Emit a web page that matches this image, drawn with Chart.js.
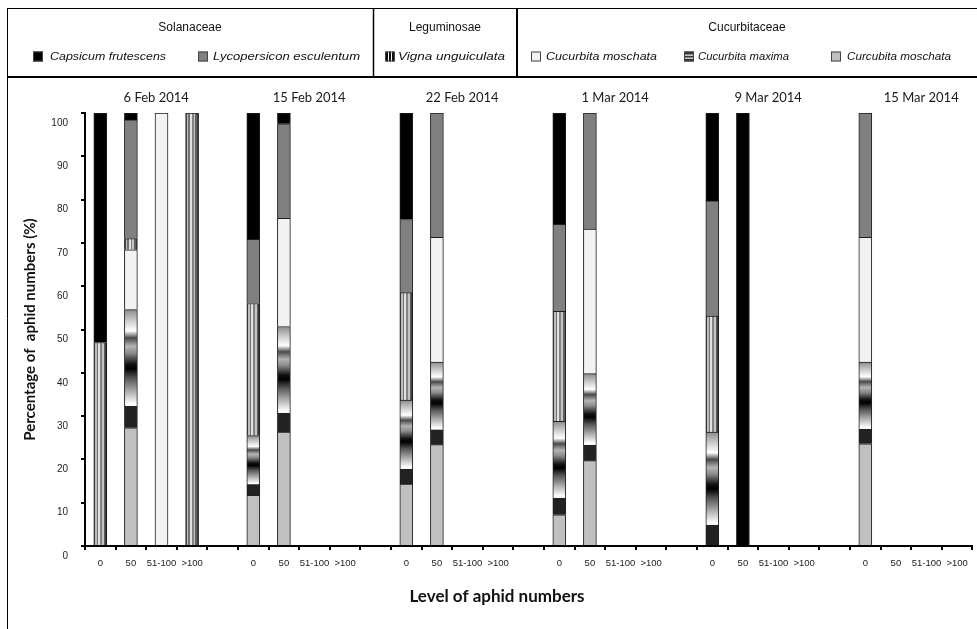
<!DOCTYPE html>
<html>
<head>
<meta charset="utf-8">
<script src="https://cdn.jsdelivr.net/npm/chart.js@4.4.1/dist/chart.umd.min.js"></script>
<style>
  html, body { margin: 0; padding: 0; background: #fff; }
  #c { display: block; }
</style>
</head>
<body>
<canvas id="c" width="977" height="629"></canvas>
<script>
// ---------- data ----------
const dates = ['6 Feb 2014', '15 Feb 2014', '22 Feb 2014', '1 Mar 2014', '9 Mar 2014', '15 Mar 2014'];
const levels = ['0', '50', '51-100', '>100'];

// values in order: date-major, level-minor (0, 50, 51-100, >100)
const capsicumFrutescens = [
  53, 1.6, 0, 0,
  29.2, 2.5, 0, 0,
  24.6, 0, 0, 0,
  25.7, 0, 0, 0,
  20.3, 100, 0, 0,
  0, 0, 0, 0
];
const lycopersiconEsculentum = [
  0, 27.4, 0, 0,
  14.8, 21.8, 0, 0,
  16.9, 28.7, 0, 0,
  20.1, 26.8, 0, 0,
  26.6, 0, 0, 0,
  28.7, 0, 0, 0
];
const vignaUnguiculata = [
  47, 2.6, 0, 100,
  30.5, 0, 0, 0,
  24.8, 0, 0, 0,
  25.4, 0, 0, 0,
  26.8, 0, 0, 0,
  0, 0, 0, 0
];
const cucurbitaMoschata = [
  0, 13.8, 100, 0,
  0, 25.0, 0, 0,
  0, 28.8, 0, 0,
  0, 33.4, 0, 0,
  0, 0, 0, 0,
  28.8, 0, 0, 0
];
const cucurbitaMaxima = [
  0, 27.3, 0, 0,
  13.8, 24.4, 0, 0,
  19.4, 19.1, 0, 0,
  21.6, 20.1, 0, 0,
  26.3, 0, 0, 0,
  18.9, 0, 0, 0
];
const curcubitaMoschata = [
  0, 27.3, 0, 0,
  11.7, 26.3, 0, 0,
  14.3, 23.4, 0, 0,
  7.2, 19.7, 0, 0,
  0, 0, 0, 0,
  23.6, 0, 0, 0
];

// ---------- build category axis with a gap slot between date groups ----------
const labels = [];
dates.forEach((d, g) => {
  levels.forEach(l => labels.push(l));
  if (g < dates.length - 1) labels.push('');
});
function expand(arr) {
  const out = [];
  dates.forEach((d, g) => {
    for (let k = 0; k < levels.length; k++) {
      const v = arr[g * levels.length + k];
      out.push(v ? v : null);
    }
    if (g < dates.length - 1) out.push(null);
  });
  return out;
}
const dLight = expand(curcubitaMoschata);
const dMax = expand(cucurbitaMaxima);
const dWhite = expand(cucurbitaMoschata);
const dVigna = expand(vignaUnguiculata);
const dLyco = expand(lycopersiconEsculentum);
const dCaps = expand(capsicumFrutescens);

const BAR_W = 13;

function vignaGradient(c, x0, x1) {
  const g = c.createLinearGradient(x0, 0, x1, 0);
  const stripes = [
    [0, 0.1, '#4a4a4a'], [0.1, 0.22, '#bdbdbd'], [0.22, 0.36, '#727272'],
    [0.36, 0.5, '#e2e2e2'], [0.5, 0.62, '#838383'], [0.62, 0.76, '#c4c4c4'],
    [0.76, 0.9, '#606060'], [0.9, 1, '#3a3a3a']
  ];
  stripes.forEach(s => { g.addColorStop(s[0], s[2]); g.addColorStop(s[1], s[2]); });
  return g;
}
function vignaFill(ctx) {
  const chart = ctx.chart, xs = chart.scales.x;
  if (ctx.type !== 'data' || !xs || !chart.chartArea) return '#999999';
  const cx = xs.getPixelForValue(ctx.dataIndex);
  return vignaGradient(chart.ctx, cx - BAR_W / 2, cx + BAR_W / 2);
}
function maximaGradient(c, y0, y1) {
  const g = c.createLinearGradient(0, y0, 0, y1);
  const stops = [
    [0, '#8c8c8c'], [0.1, '#cfcfcf'], [0.18, '#ffffff'], [0.24, '#4a4a4a'],
    [0.31, '#b4b4b4'], [0.37, '#8a8a8a'], [0.46, '#111111'], [0.5, '#000000'],
    [0.58, '#555555'], [0.7, '#b4b4b4'], [0.8, '#ffffff'], [0.815, '#f4f4f4'],
    [0.82, '#222222'], [1, '#222222']
  ];
  stops.forEach(s => g.addColorStop(s[0], s[1]));
  return g;
}
function maximaFill(ctx) {
  const chart = ctx.chart, ys = chart.scales.y;
  if (ctx.type !== 'data' || !ys || !chart.chartArea) return '#666666';
  const i = ctx.dataIndex;
  const base = dLight[i] || 0;
  const top = base + (dMax[i] || 0);
  return maximaGradient(chart.ctx, ys.getPixelForValue(top), ys.getPixelForValue(base));
}

const common = { borderColor: '#1e1e1e', borderWidth: 1, barThickness: BAR_W };

// ---------- decorations: grouped legend box, date headers, x title ----------
const legendItems = [
  { name: 'Capsicum frutescens', sx: 33, tx: 50, tw: 116, kind: 'solid', color: '#000000' },
  { name: 'Lycopersicon esculentum', sx: 198, tx: 213, tw: 147, kind: 'solid', color: '#808080' },
  { name: 'Vigna unguiculata', sx: 385, tx: 398, tw: 107, kind: 'vstripe' },
  { name: 'Cucurbita moschata', sx: 531, tx: 546, tw: 111, kind: 'solid', color: '#f2f2f2' },
  { name: 'Cucurbita maxima', sx: 684, tx: 698, tw: 91, kind: 'hstripe' },
  { name: 'Curcubita moschata', sx: 831, tx: 847, tw: 104, kind: 'solid', color: '#c0c0c0' }
];
const families = [
  { name: 'Solanaceae', x: 190 },
  { name: 'Leguminosae', x: 445 },
  { name: 'Cucurbitaceae', x: 747 }
];

const decor = {
  id: 'decor',
  beforeDraw(chart) {
    const c = chart.ctx;
    c.save();
    c.fillStyle = '#ffffff';
    c.fillRect(0, 0, chart.width, chart.height);
    c.restore();
  },
  afterDraw(chart) {
    const c = chart.ctx, xs = chart.scales.x;
    c.save();
    c.strokeStyle = '#000';
    // frame
    c.lineWidth = 1;
    c.beginPath(); c.moveTo(7.5, 8); c.lineTo(7.5, 629); c.stroke();
    c.beginPath(); c.moveTo(7, 8.5); c.lineTo(977, 8.5); c.stroke();
    c.lineWidth = 2;
    c.beginPath(); c.moveTo(7, 77); c.lineTo(977, 77); c.stroke();
    c.lineWidth = 1.5;
    c.beginPath(); c.moveTo(373.5, 8); c.lineTo(373.5, 77); c.stroke();
    c.lineWidth = 2;
    c.beginPath(); c.moveTo(517, 8); c.lineTo(517, 77); c.stroke();

    // family headers
    c.fillStyle = '#111';
    c.font = '12px "Liberation Sans", Arial, sans-serif';
    c.textAlign = 'center';
    c.textBaseline = 'middle';
    families.forEach(f => c.fillText(f.name, f.x, 28));

    // legend entries
    legendItems.forEach(it => {
      const sy = 51.5, s = 10;
      if (it.kind === 'solid') {
        c.fillStyle = it.color; c.fillRect(it.sx, sy, s, s);
      } else if (it.kind === 'vstripe') {
        c.fillStyle = '#ffffff'; c.fillRect(it.sx, sy, s, s);
        c.fillStyle = '#111';
        [1, 4, 7].forEach(o => c.fillRect(it.sx + o, sy, 2, s));
      } else {
        c.fillStyle = '#333'; c.fillRect(it.sx, sy, s, s);
        c.fillStyle = '#e8e8e8';
        c.fillRect(it.sx, sy + 3, s, 1.3);
        c.fillRect(it.sx, sy + 6, s, 1.3);
      }
      c.lineWidth = 1; c.strokeStyle = '#444';
      c.strokeRect(it.sx + 0.5, sy + 0.5, s - 1, s - 1);
      c.fillStyle = '#111';
      c.font = 'italic 11px "Liberation Sans", Arial, sans-serif';
      c.textAlign = 'left';
      const w = c.measureText(it.name).width;
      const k = it.tw / w;
      c.save();
      c.translate(it.tx, 56.5);
      c.scale(k, 1);
      c.fillText(it.name, 0, 0);
      c.restore();
    });

    // date headers over each group
    c.fillStyle = '#1a1a1a';
    c.font = '13px Lato, "Open Sans", sans-serif';
    c.textAlign = 'center';
    c.textBaseline = 'middle';
    dates.forEach((d, g) => {
      const i = g * (levels.length + 1);
      const x = (xs.getPixelForValue(i + 1) + xs.getPixelForValue(i + 2)) / 2 + 10;
      c.fillText(d, x, 98);
    });

    // x axis title
    c.fillStyle = '#111';
    c.font = 'bold 17px Lato, "Open Sans", sans-serif';
    c.fillText('Level of aphid numbers', 497, 597);
    c.restore();
  }
};

new Chart(document.getElementById('c'), {
  type: 'bar',
  data: {
    labels: labels,
    datasets: [
      Object.assign({ label: 'Curcubita moschata', data: dLight, backgroundColor: '#c0c0c0' }, common),
      Object.assign({ label: 'Cucurbita maxima', data: dMax, backgroundColor: maximaFill }, common),
      Object.assign({ label: 'Cucurbita moschata', data: dWhite, backgroundColor: '#f2f2f2' }, common),
      Object.assign({ label: 'Vigna unguiculata', data: dVigna, backgroundColor: vignaFill }, common),
      Object.assign({ label: 'Lycopersicon esculentum', data: dLyco, backgroundColor: '#808080' }, common),
      Object.assign({ label: 'Capsicum frutescens', data: dCaps, backgroundColor: '#000000', borderColor: '#000000' }, common)
    ]
  },
  options: {
    responsive: false,
    animation: false,
    events: [],
    layout: { padding: { top: 113, right: 4.6, bottom: 0, left: 0 } },
    plugins: { legend: { display: false }, tooltip: { enabled: false } },
    scales: {
      x: {
        stacked: true,
        offset: true,
        grid: { display: true, drawOnChartArea: false, drawTicks: true, tickLength: 4, offset: true, color: '#000', lineWidth: 2 },
        border: { display: true, color: '#000', width: 2 },
        ticks: {
          autoSkip: false, maxRotation: 0, minRotation: 0, padding: 8,
          color: '#222', font: { family: '"Liberation Sans", Arial, sans-serif', size: 9.5 }
        },
        afterFit(scale) { scale.height = 83; }
      },
      y: {
        stacked: true,
        min: 0,
        max: 100,
        grid: { display: true, drawOnChartArea: false, drawTicks: true, tickLength: 4, color: '#000', lineWidth: 2 },
        border: { display: true, color: '#000', width: 2 },
        ticks: {
          stepSize: 10, padding: 13, labelOffset: 10,
          color: '#1c1c2c', font: { family: '"Liberation Sans", Arial, sans-serif', size: 10 }
        },
        title: {
          display: true,
          text: 'Percentage of  aphid numbers (%)',
          color: '#111',
          font: { family: 'Lato, "Open Sans", sans-serif', weight: 'bold', size: 15 },
          padding: { top: 21, bottom: 0 }
        },
        afterFit(scale) { scale.width = 85; }
      }
    }
  },
  plugins: [decor]
});
</script>
</body>
</html>
